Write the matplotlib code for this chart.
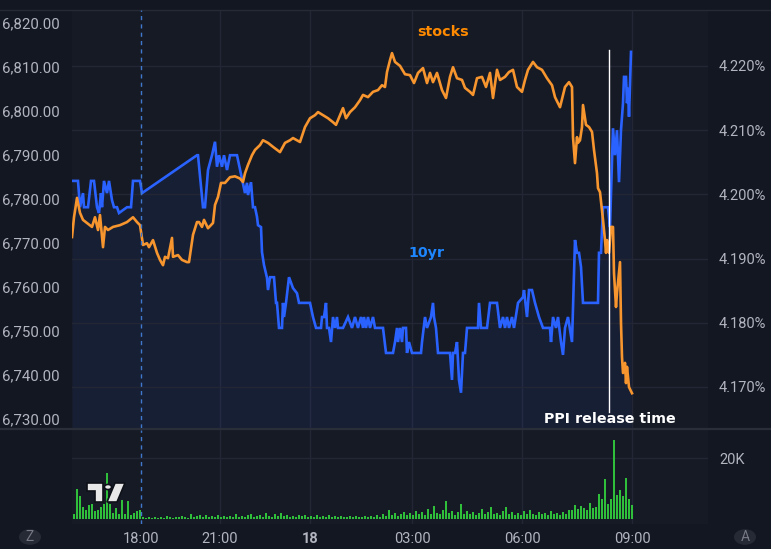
import matplotlib.pyplot as plt
from matplotlib.ticker import FuncFormatter
from matplotlib.patches import Circle, Polygon
from matplotlib.lines import Line2D

# chart x is the bar number (TradingView index axis)
stocks_bar = [72, 74, 77, 80, 83, 87, 92, 95, 98, 100, 103, 105, 108, 113, 120, 127, 133, 137, 140,
              143, 147, 149, 153, 157, 160, 163, 165, 168, 172, 173, 178, 182, 187, 189, 193, 197,
              199, 202, 204, 208, 213, 215, 218, 221, 225, 230, 235, 240, 243, 245, 248, 252, 255,
              260, 263, 268, 273, 280, 285, 290, 293, 297, 300, 305, 310, 315, 318, 323, 328, 333,
              336, 340, 343, 346, 350, 355, 360, 363, 368, 373, 378, 382, 385, 387, 390, 392, 395,
              400, 405, 410, 414, 418, 423, 427, 430, 433, 437, 442, 446, 450, 453, 457, 462, 465,
              470, 473, 477, 482, 486, 490, 493, 497, 500, 505, 509, 513, 517, 522, 525, 528, 533,
              537, 542, 547, 552, 555, 560, 565, 569, 572, 573, 575, 577, 578, 580, 582, 583, 586,
              589, 592, 594, 597, 598, 600, 602, 603, 605, 606, 607, 609, 611, 613, 614, 616, 617,
              619, 620, 621, 622, 623, 625, 626, 627, 629, 632]
stocks_val = [6771.2, 6775.7, 6780.1, 6776.7, 6775.1, 6774.4, 6773.5, 6775.7, 6772.8, 6776.2,
              6768.9, 6773.5, 6772.8, 6773.5, 6773.9, 6774.6, 6775.7, 6774.6, 6773.9,
              6769.4, 6769.8, 6768.9, 6770.5, 6767.6, 6766.0, 6764.8, 6766.7, 6766.4, 6771.0,
              6766.7, 6767.1, 6766.0, 6765.5, 6765.5, 6771.7, 6774.6, 6774.6, 6773.5, 6775.1,
              6773.2, 6774.4, 6778.5, 6780.3, 6783.5, 6783.5, 6784.8, 6785.0, 6784.5, 6783.7,
              6785.7, 6787.6, 6789.8, 6791.0, 6792.1, 6793.2, 6792.6, 6791.7, 6790.5, 6792.6,
              6793.2, 6793.7, 6793.2, 6792.8, 6796.2, 6798.2, 6798.9, 6799.6, 6798.9, 6798.2,
              6797.3, 6796.7, 6798.9, 6800.5, 6798.2, 6799.6, 6800.7, 6802.3, 6803.5, 6803.0,
              6804.2, 6804.6, 6805.7, 6805.3, 6808.7, 6811.4, 6813.0, 6811.0, 6810.1, 6808.2,
              6808.0, 6806.2, 6808.5, 6809.6, 6806.2, 6808.5, 6806.4, 6808.5, 6804.6, 6802.8,
              6807.6, 6809.8, 6807.3, 6806.9, 6805.1, 6804.2, 6803.5, 6807.3, 6807.6, 6805.3,
              6808.5, 6802.8, 6809.2, 6806.9, 6807.6, 6808.7, 6809.2, 6805.3, 6804.2, 6806.9,
              6809.2, 6811.0, 6809.8, 6809.2, 6807.3, 6805.7, 6803.0, 6800.7, 6805.3, 6806.4,
              6805.3, 6793.9, 6788.0, 6793.9, 6792.6, 6793.2, 6796.2, 6801.2, 6796.7, 6796.2,
              6795.1, 6791.0, 6785.7, 6782.3, 6781.4, 6777.3, 6775.1, 6770.5, 6767.6, 6770.5,
              6767.6, 6773.5, 6773.5, 6763.0, 6755.3, 6758.5, 6763.0, 6765.5, 6751.7, 6743.9,
              6740.3, 6742.6, 6738.0, 6741.7, 6737.1, 6735.7]

yield_bar = [72, 78, 80, 83, 84, 88, 91, 94, 97, 99, 101, 102, 104, 107, 109, 112, 114, 117, 119,
             127, 131, 133, 140, 142, 197, 198, 203, 205, 208, 212, 215, 217, 219, 222, 224, 227,
             230, 237, 245, 247, 248, 251, 253, 255, 257, 258, 261, 262, 264, 267, 268, 270, 274,
             276, 277, 279, 282, 283, 284, 286, 289, 293, 297, 299, 310, 313, 316, 321, 322, 324,
             326, 327, 329, 331, 333, 335, 337, 338, 343, 348, 352, 355, 358, 361, 363, 364, 366,
             368, 370, 373, 375, 383, 386, 393, 395, 397, 398, 400, 402, 403, 406, 407, 409, 412,
             421, 422, 425, 427, 431, 433, 434, 436, 438, 450, 452, 453, 455, 457, 459, 461, 463,
             465, 467, 478, 479, 481, 487, 490, 497, 500, 503, 505, 507, 509, 512, 514, 518, 523,
             524, 527, 529, 532, 535, 539, 543, 550, 551, 553, 556, 558, 561, 563, 565, 568, 572,
             575, 577, 579, 581, 583, 585, 598, 599, 601, 603, 608, 610, 613, 615, 617, 619, 621,
             623, 624, 626, 627, 628, 629, 631]
yield_val = [4.2021, 4.2021, 4.1980, 4.2002, 4.1980, 4.1980, 4.2021, 4.2021, 4.1980, 4.1971,
             4.2002, 4.1980, 4.2021, 4.2002, 4.2021, 4.1991, 4.1980, 4.1980, 4.1971,
             4.1980, 4.1980, 4.2021, 4.2021, 4.2002, 4.2061, 4.2061, 4.1980, 4.1980, 4.2038,
             4.2061, 4.2082, 4.2043, 4.2061, 4.2043, 4.2061, 4.2038, 4.2061, 4.2061, 4.2002,
             4.2018, 4.1999, 4.2019, 4.1980, 4.1980, 4.1965, 4.1952, 4.1949, 4.1910, 4.1890,
             4.1870, 4.1851, 4.1871, 4.1871, 4.1831, 4.1831, 4.1792, 4.1792, 4.1831, 4.1809,
             4.1831, 4.1871, 4.1854, 4.1846, 4.1831, 4.1831, 4.1809, 4.1792, 4.1792, 4.1809,
             4.1809, 4.1831, 4.1792, 4.1792, 4.1770, 4.1809, 4.1792, 4.1809, 4.1792, 4.1792,
             4.1809, 4.1792, 4.1809, 4.1792, 4.1809, 4.1792, 4.1809, 4.1792, 4.1809, 4.1792,
             4.1809, 4.1792, 4.1792, 4.1753, 4.1753, 4.1770, 4.1792, 4.1770, 4.1792, 4.1770,
             4.1792, 4.1792, 4.1753, 4.1770, 4.1753, 4.1753, 4.1770, 4.1809, 4.1792, 4.1809,
             4.1831, 4.1809, 4.1792, 4.1753, 4.1753, 4.1711, 4.1753, 4.1753, 4.1770, 4.1711,
             4.1691, 4.1753, 4.1753, 4.1792, 4.1792, 4.1831, 4.1792, 4.1792, 4.1831, 4.1831,
             4.1792, 4.1809, 4.1792, 4.1809, 4.1792, 4.1809, 4.1792, 4.1831, 4.1840, 4.1851,
             4.1809, 4.1851, 4.1851, 4.1831, 4.1809, 4.1792, 4.1792, 4.1770, 4.1809, 4.1792,
             4.1809, 4.1770, 4.1750, 4.1792, 4.1809, 4.1770, 4.1929, 4.1909, 4.1909, 4.1887,
             4.1831, 4.1831, 4.1831, 4.1909, 4.1909, 4.1980, 4.1980, 4.1949, 4.2103, 4.2061,
             4.2100, 4.2019, 4.2100, 4.2142, 4.2183, 4.2183, 4.2142, 4.2166, 4.2121, 4.2222]

vol_bar = list(range(74, 633, 3))
vol_k = [1.5, 10.0, 7.6, 4.0, 3.0, 4.5, 5.0, 2.5, 3.0, 4.0, 5.0, 15.0, 5.0, 2.0, 3.5, 1.5, 6.3,
         1.8, 5.8, 1.2, 2.0, 2.5, 3.0,
         0.8, 0.3, 0.5, 0.4, 0.7, 0.3, 0.6, 0.4, 0.9, 0.5, 0.4, 0.8, 0.5, 1.1, 0.6, 0.4, 1.5, 0.7, 0.9, 1.4,
         0.6, 1.2, 0.8, 1.0, 0.5, 1.3, 0.7, 0.9, 0.6, 1.1, 0.8, 1.6, 0.7, 1.0, 0.6, 1.2, 1.7, 0.8, 1.0, 1.4,
         0.7, 1.9, 1.1, 0.8, 1.5, 1.0, 2.0, 0.9, 1.3, 0.7, 1.1, 0.8, 1.4, 0.9, 1.2, 0.6, 1.0, 0.7, 1.3, 0.8,
         1.0, 0.6, 1.2, 0.5, 0.9, 0.6, 1.1, 0.7, 0.5, 0.9, 0.6, 1.0, 0.5, 0.8, 1.1, 0.6, 0.9, 0.7,
         1.2, 0.8, 1.5, 1.0, 3.0, 1.3, 2.0, 1.1, 1.6, 2.4, 1.2, 2.0, 1.4, 2.6, 1.5, 2.2, 1.3, 3.2, 1.8, 4.4,
         2.0, 1.5, 2.8, 5.8, 1.9, 2.5, 1.4, 2.2, 5.0, 1.8, 2.6, 1.6, 2.3, 1.4, 2.0, 3.3, 1.5, 2.4, 4.0, 1.7,
         2.1, 1.3, 2.5, 4.0, 1.6, 2.2, 1.4, 2.0, 1.2, 2.6, 1.5, 3.0, 1.8, 1.3, 2.4, 1.5, 2.1, 1.2, 2.5, 1.6,
         2.0, 1.4, 2.3, 1.7, 2.8,
         3.0, 4.7, 3.2, 4.2, 3.5, 2.8, 5.3, 3.6, 4.0, 8.3, 6.6, 13.0, 5.0, 6.4, 26.0, 8.0, 9.6, 7.4,
         13.4, 6.4, 4.7]

tick_bars = [141, 220, 310, 412, 522, 632]
tick_labels = ["18:00", "21:00", "18", "03:00", "06:00", "09:00"]
session_bar = 141
ppi_bar = 609
stocks_ticks = list(range(6730, 6821, 10))
yield_ticks = [4.17, 4.18, 4.19, 4.20, 4.21, 4.22]

FIG_BG = "#131722"
PLOT_BG = "#161a25"
GRID = "#232735"
TXT = "#b2b5be"
ORANGE = "#f7952e"
BLUE = "#2962ff"

W, H = 771, 549


def box(l, t, r, b):
    return [l / W, 1 - b / H, (r - l) / W, (b - t) / H]


def px(x, y):
    return (x / W, 1 - y / H)


fig = plt.figure(figsize=(W / 100, H / 100), dpi=100, facecolor=FIG_BG)
ax = fig.add_axes(box(72, 10, 708, 428))
ax2 = ax.twinx()
axv = fig.add_axes(box(72, 430, 708, 524))

# z order: yield pane underneath, stocks line on top
ax.set_zorder(2)
ax2.set_zorder(1)
ax.patch.set_visible(False)
ax2.patch.set_visible(True)
ax2.patch.set_facecolor(PLOT_BG)
axv.set_facecolor(PLOT_BG)

for a in (ax, ax2, axv):
    for s in a.spines.values():
        s.set_visible(False)
    a.set_xlim(72, 708)

# yield area + line
ax2.fill_between(yield_bar, yield_val, 4.16, color=BLUE, alpha=0.07, lw=0, zorder=1)
ax2.plot(yield_bar, yield_val, color=BLUE, lw=1.9, zorder=3, solid_joinstyle="miter")
ax2.set_ylim(4.16361, 4.22872)
ax2.set_yticks(yield_ticks)
ax2.yaxis.set_major_formatter(FuncFormatter(lambda v, p: f"{v:.3f}%"))
ax2.grid(axis="y", color=GRID, lw=1, zorder=0)
for b in tick_bars[1:]:
    ax2.axvline(b, color=GRID, lw=1, zorder=0)
ax2.tick_params(axis="y", length=0, pad=8, labelcolor=TXT, labelsize=10.5)

# stocks line
ax.plot(stocks_bar, stocks_val, color=ORANGE, lw=1.9, zorder=3)
ax.set_ylim(6727.8, 6822.8)
ax.set_yticks(stocks_ticks)
ax.yaxis.set_major_formatter(FuncFormatter(lambda v, p: f"{v:,.2f}"))
ax.tick_params(axis="y", length=0, pad=9, labelcolor=TXT, labelsize=10.8)
ax.tick_params(axis="x", length=0, labelbottom=False)
for lab in ax.get_yticklabels() + ax2.get_yticklabels():
    lab.set_fontfamily("Roboto")

ax.axvline(session_bar, color="#3f78cc", lw=1, ls=(0, (3, 3)), zorder=4)
ax.axvline(ppi_bar, ymin=0.038, ymax=0.904, color="white", lw=1, zorder=5)

ax.text(0.583, 0.947, "stocks", transform=ax.transAxes, color="#ff8a00", fontsize=10.3,
        fontweight="bold", ha="center", va="center")
ax.text(0.558, 0.419, "10yr", transform=ax.transAxes, color="#1e86ff", fontsize=10.3,
        fontweight="bold", ha="center", va="center")
ax.text(0.846, 0.022, "PPI release time", transform=ax.transAxes, color="white", fontsize=10.3,
        fontweight="bold", ha="center", va="center")

# volume pane
axv.bar(vol_bar, vol_k, width=1.1, color="#2fbf3a", lw=0, zorder=3)
axv.set_ylim(-1.64, 29.2)
axv.yaxis.tick_right()
axv.set_yticks([20])
axv.set_yticklabels(["20K"])
axv.grid(axis="y", color=GRID, lw=1, zorder=0)
for b in tick_bars[1:]:
    axv.axvline(b, color=GRID, lw=1, zorder=0)
axv.axvline(session_bar, color="#3f78cc", lw=1, ls=(0, (3, 3)), zorder=4)
axv.set_xticks(tick_bars)
axv.set_xticklabels(tick_labels)
axv.tick_params(axis="y", length=0, pad=8, labelcolor=TXT, labelsize=10.5)
axv.tick_params(axis="x", length=0, pad=6, labelcolor=TXT, labelsize=10.5)
for lab in axv.get_xticklabels() + axv.get_yticklabels():
    lab.set_fontfamily("Roboto")
axv.get_xticklabels()[2].set_fontweight("bold")

# pane separators
fig.add_artist(Line2D([0, 1], [1 - 10 / H] * 2, color="#262a35", lw=1))
fig.add_artist(Line2D([0, 1], [1 - 429 / H] * 2, color="#2a2e39", lw=1.6))

# TradingView logo
logo_kw = dict(transform=fig.transFigure, facecolor="#e8e8e8", edgecolor="#0e1118", lw=1.2, zorder=10)
fig.add_artist(Polygon([px(87, 483), px(103, 483), px(103, 502), px(95, 502), px(95, 491), px(87, 491)],
                       closed=True, **logo_kw))
fig.add_artist(Circle(px(108, 487), 3.6 / W, **logo_kw))
fig.add_artist(Polygon([px(115, 483), px(125, 483), px(117, 502), px(107, 502)], closed=True, **logo_kw))

# corner buttons
for cx, letter in ((30, "Z"), (745, "A")):
    fig.add_artist(Circle(px(cx, 537), 11 / W, transform=fig.transFigure, facecolor="#262a35",
                          edgecolor="none", zorder=10))
    fig.text(cx / W, 1 - 537 / H, letter, color="#787b86", fontsize=10, ha="center", va="center",
             fontfamily="Roboto", zorder=11)

fig.savefig("out.png", dpi=100, facecolor=FIG_BG)
